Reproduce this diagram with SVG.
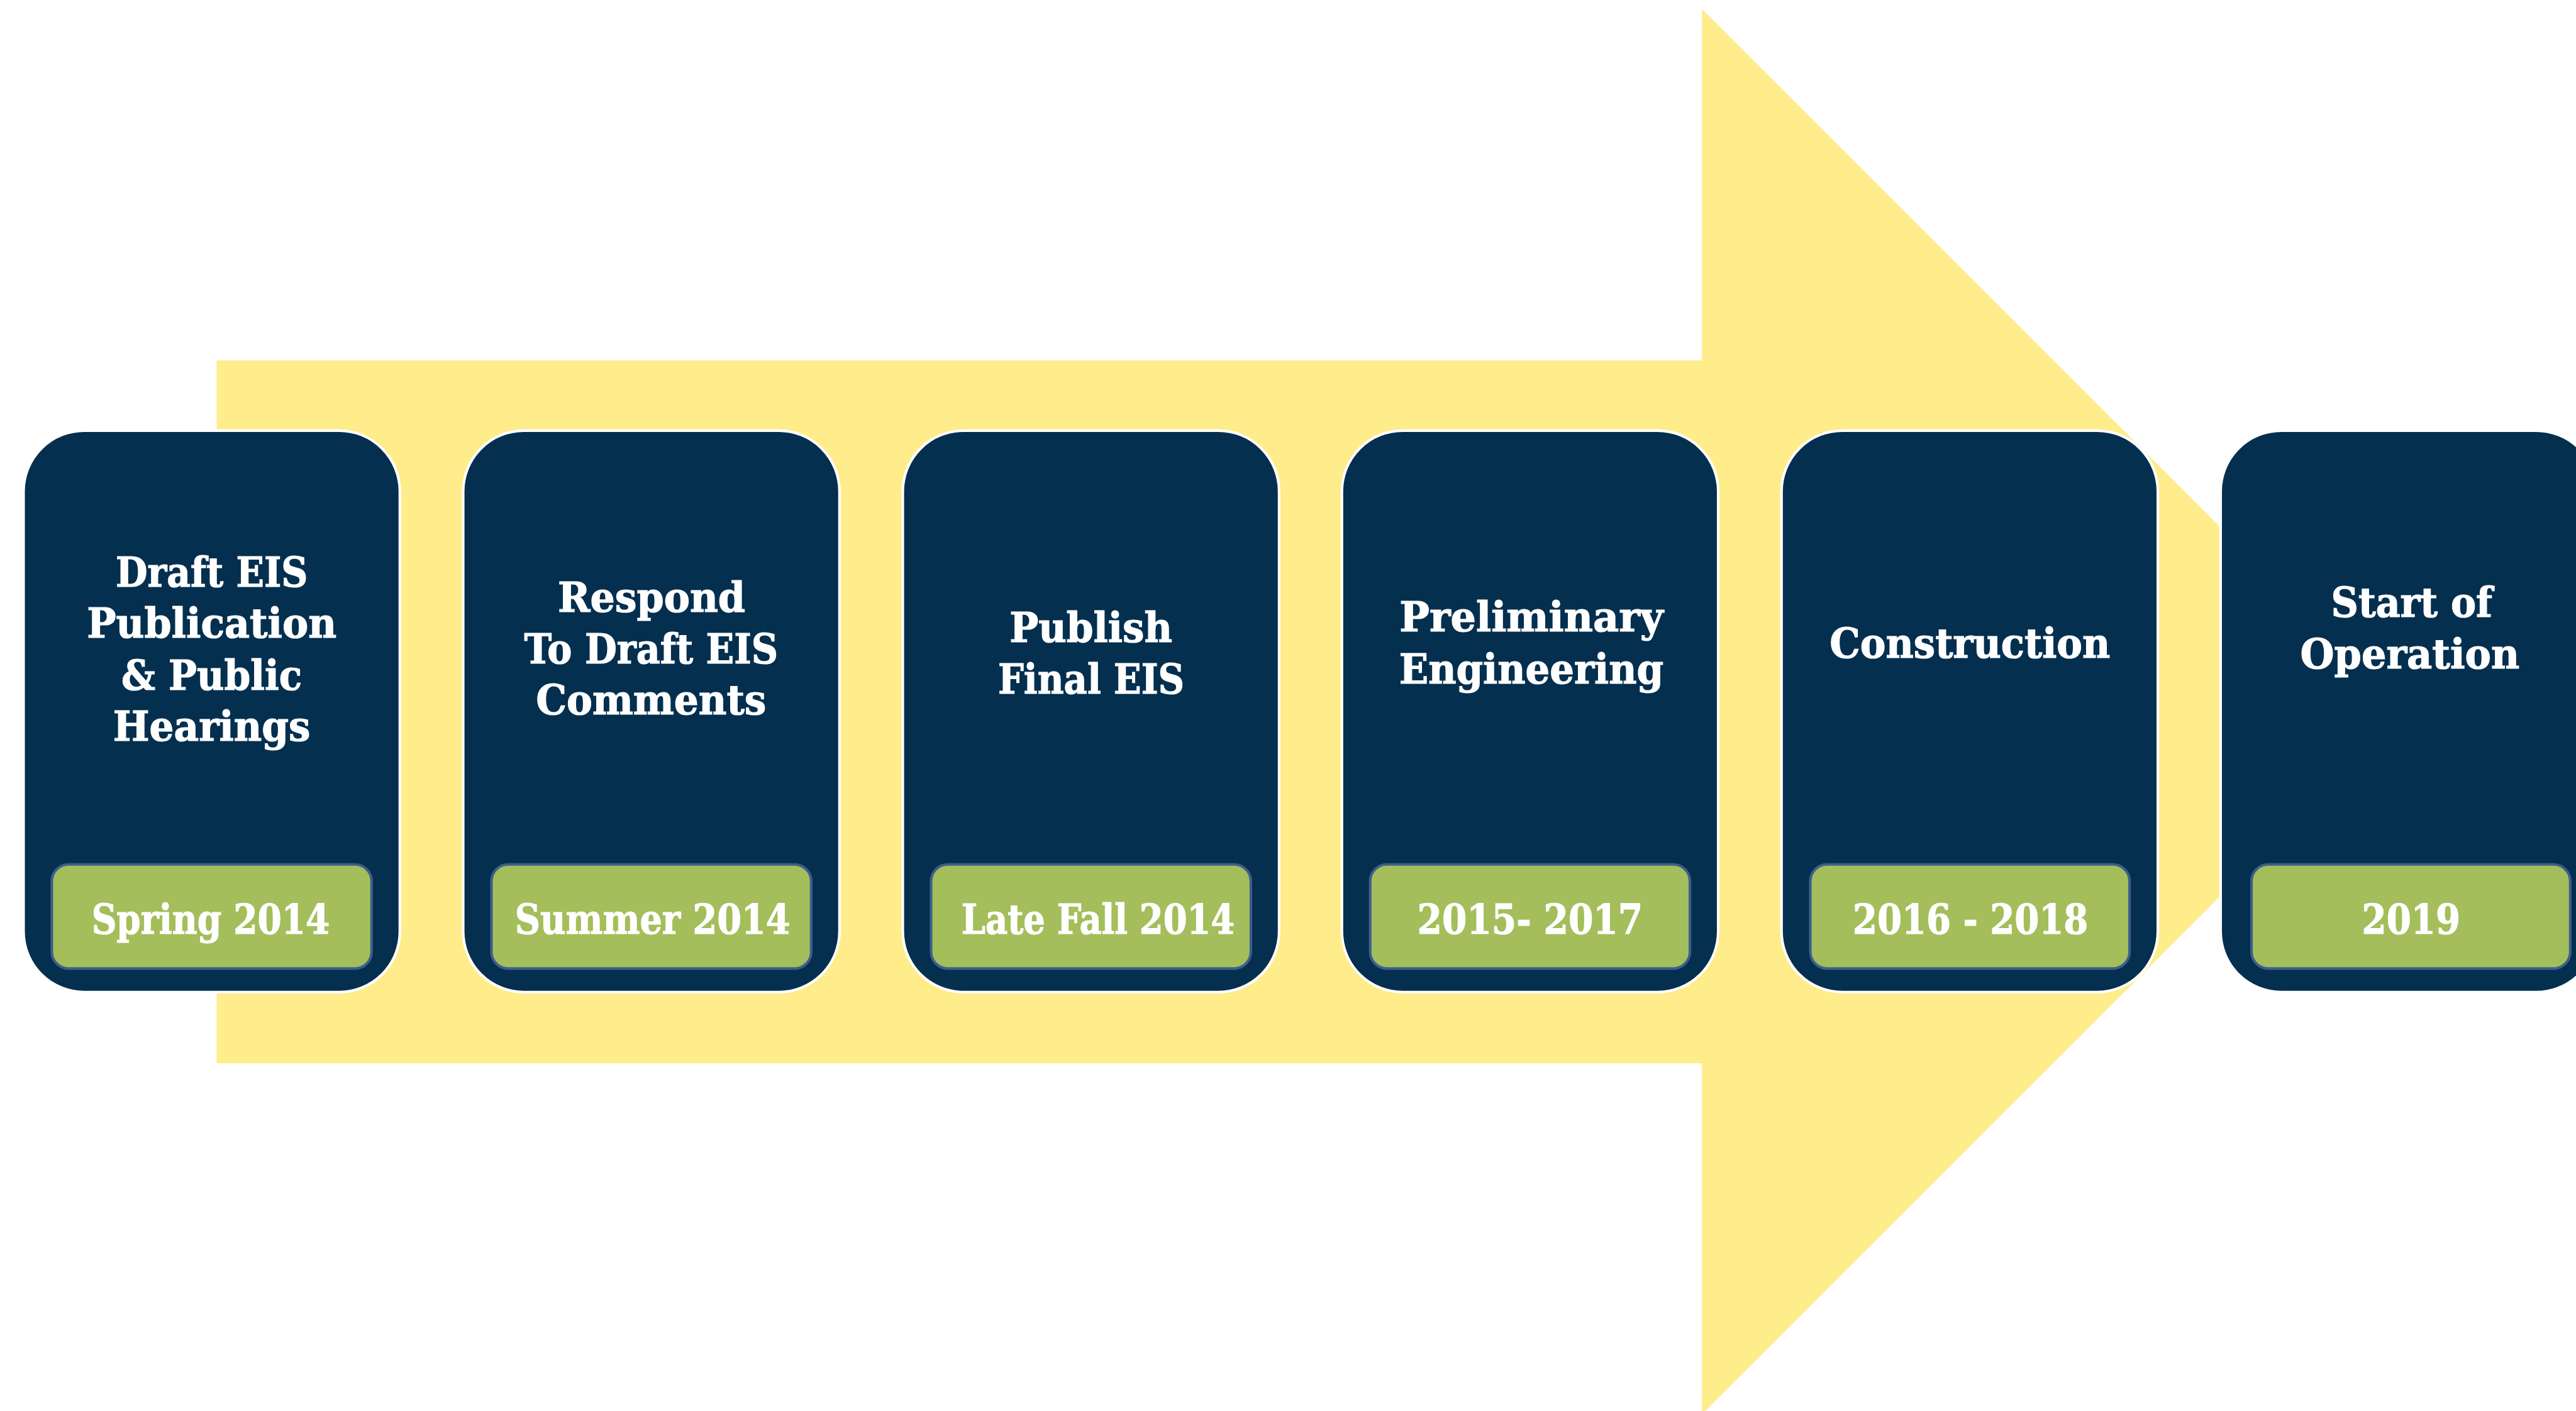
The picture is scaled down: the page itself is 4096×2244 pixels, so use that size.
<svg xmlns="http://www.w3.org/2000/svg" width="4096" height="2244" viewBox="0 0 4096 2244">
  <style>
    .card { fill: #042f4f; stroke: #ffffff; stroke-width: 5; }
    .date { fill: #a3be5b; stroke: #3d5e8c; stroke-width: 5; }
    .title, .when { font-family: "DejaVu Serif", "Liberation Serif", serif; font-weight: bold; font-size: 78px; fill: #ffffff; stroke: #ffffff; stroke-width: 1.5; text-anchor: middle; }
  </style>
  <rect x="0" y="0" width="4096" height="2244" fill="#ffffff"/>
  <!-- laid out in 4922-wide units, scaled to the window -->
  <g transform="scale(0.83218)">
    <!-- big background arrow -->
    <polygon id="timeline-arrow" points="414,689 3252,689 3252,17 4595,1360 3252,2703 3252,2032 414,2032" fill="#ffec8b"/>
    <g id="connectors"></g>

    <g id="step-1" transform="translate(47,825)">
      <rect class="card" x="-2" y="-2" width="719" height="1073" rx="116" ry="116"/>
      <rect class="date" x="52" y="827" width="611" height="199" rx="32" ry="32"/>
      <text class="title" x="357.5" y="296" textLength="367" lengthAdjust="spacingAndGlyphs">Draft EIS</text>
      <text class="title" x="357.5" y="394" textLength="477" lengthAdjust="spacingAndGlyphs">Publication</text>
      <text class="title" x="357.5" y="493" textLength="345" lengthAdjust="spacingAndGlyphs">&amp; Public</text>
      <text class="title" x="357.5" y="591" textLength="377" lengthAdjust="spacingAndGlyphs">Hearings</text>
      <text class="when" x="355.5" y="959" textLength="455" lengthAdjust="spacingAndGlyphs">Spring 2014</text>
    </g>

    <g id="step-2" transform="translate(887,825)">
      <rect class="card" x="-2" y="-2" width="719" height="1073" rx="116" ry="116"/>
      <rect class="date" x="52" y="827" width="611" height="199" rx="32" ry="32"/>
      <text class="title" x="358" y="344" textLength="358" lengthAdjust="spacingAndGlyphs">Respond</text>
      <text class="title" x="357" y="443" textLength="485" lengthAdjust="spacingAndGlyphs">To Draft EIS</text>
      <text class="title" x="357" y="540" textLength="440" lengthAdjust="spacingAndGlyphs">Comments</text>
      <text class="when" x="360" y="959" textLength="526" lengthAdjust="spacingAndGlyphs">Summer 2014</text>
    </g>

    <g id="step-3" transform="translate(1727,825)">
      <rect class="card" x="-2" y="-2" width="719" height="1073" rx="116" ry="116"/>
      <rect class="date" x="52" y="827" width="611" height="199" rx="32" ry="32"/>
      <text class="title" x="357.5" y="402" textLength="311" lengthAdjust="spacingAndGlyphs">Publish</text>
      <text class="title" x="358" y="501" textLength="356" lengthAdjust="spacingAndGlyphs">Final EIS</text>
      <text class="when" x="371" y="959" textLength="522" lengthAdjust="spacingAndGlyphs">Late Fall 2014</text>
    </g>

    <g id="step-4" transform="translate(2566,825)">
      <rect class="card" x="-2" y="-2" width="719" height="1073" rx="116" ry="116"/>
      <rect class="date" x="52" y="827" width="611" height="199" rx="32" ry="32"/>
      <text class="title" x="360" y="382" textLength="504" lengthAdjust="spacingAndGlyphs">Preliminary</text>
      <text class="title" x="360" y="481" textLength="505" lengthAdjust="spacingAndGlyphs">Engineering</text>
      <text class="when" x="357.5" y="959" textLength="431" lengthAdjust="spacingAndGlyphs">2015- 2017</text>
    </g>

    <g id="step-5" transform="translate(3406,825)">
      <rect class="card" x="-2" y="-2" width="719" height="1073" rx="116" ry="116"/>
      <rect class="date" x="53" y="827" width="610" height="199" rx="32" ry="32"/>
      <text class="title" x="358" y="432" textLength="536" lengthAdjust="spacingAndGlyphs">Construction</text>
      <text class="when" x="359" y="959" textLength="450" lengthAdjust="spacingAndGlyphs">2016 - 2018</text>
    </g>

    <g id="step-6" transform="translate(4245,825)">
      <rect class="card" x="-2" y="-2" width="719" height="1073" rx="116" ry="116"/>
      <rect class="date" x="57" y="827" width="609" height="199" rx="32" ry="32"/>
      <text class="title" x="363" y="354" textLength="308" lengthAdjust="spacingAndGlyphs">Start of</text>
      <text class="title" x="359.5" y="452" textLength="419" lengthAdjust="spacingAndGlyphs">Operation</text>
      <text class="when" x="362" y="959" textLength="188" lengthAdjust="spacingAndGlyphs">2019</text>
    </g>
  </g>
</svg>
